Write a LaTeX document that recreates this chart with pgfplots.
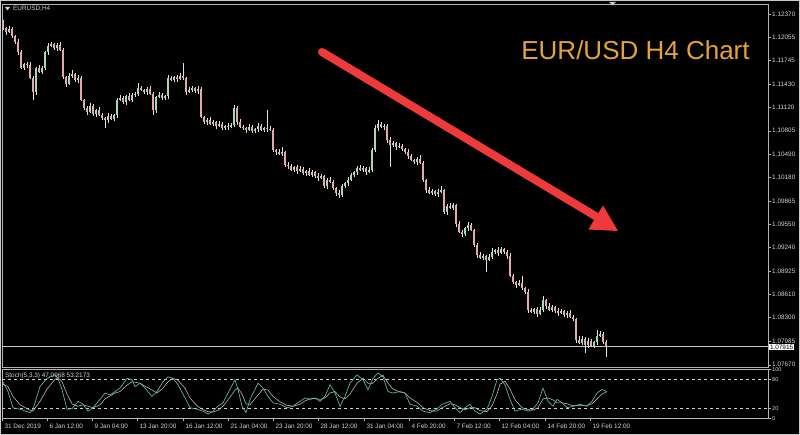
\documentclass[border=0pt]{standalone}
\usepackage{fontspec}
\setmainfont{Liberation Sans}
\usepackage{pgfplots}
\pgfplotsset{compat=1.18}
\usepackage{pgfplotstable}

\definecolor{framec}{HTML}{B4B4B4}
\definecolor{labelc}{HTML}{D2D2D2}
\definecolor{wickc}{HTML}{E2E2E2}
\definecolor{bearc}{HTML}{E6A9AB}
\definecolor{bullc}{HTML}{A9D8B0}
\definecolor{stochk}{HTML}{5AB4A0}
\definecolor{stochd}{HTML}{B8B8B8}
\definecolor{arrowc}{HTML}{EE3A3A}
\definecolor{titlec}{HTML}{E3A43A}

\newcommand\smallfont{\fontsize{6.4}{7}\selectfont}

% EURUSD H4 candles: x position, open, high, low, close
\pgfplotstableread{
x o h l c
3 1.12263 1.12290 1.12156 1.12183
6 1.12183 1.12196 1.12089 1.12129
9 1.12129 1.12210 1.12116 1.12169
12 1.12169 1.12196 1.12049 1.12076
15 1.12076 1.12089 1.11968 1.11995
18 1.11995 1.12035 1.11821 1.11861
21 1.11861 1.11888 1.11633 1.11647
24 1.11647 1.11714 1.11620 1.11700
27 1.11700 1.11727 1.11647 1.11687
30 1.11687 1.11727 1.11499 1.11513
33 1.11513 1.11540 1.11218 1.11325
36 1.11325 1.11660 1.11285 1.11647
39 1.11647 1.11687 1.11580 1.11593
42 1.11593 1.11674 1.11566 1.11647
45 1.11647 1.11875 1.11620 1.11861
48 1.11861 1.11982 1.11821 1.11942
51 1.11942 1.11995 1.11928 1.11968
54 1.11968 1.11982 1.11888 1.11915
57 1.11915 1.11982 1.11875 1.11955
60 1.11955 1.11995 1.11875 1.11888
63 1.11888 1.11915 1.11499 1.11526
66 1.11526 1.11540 1.11392 1.11432
69 1.11432 1.11580 1.11419 1.11540
72 1.11540 1.11620 1.11513 1.11566
75 1.11566 1.11580 1.11459 1.11486
78 1.11486 1.11553 1.11446 1.11513
81 1.11513 1.11540 1.11205 1.11218
84 1.11218 1.11231 1.11084 1.11111
87 1.11111 1.11138 1.11017 1.11057
90 1.11057 1.11178 1.11044 1.11138
93 1.11138 1.11164 1.11004 1.11030
96 1.11030 1.11097 1.10990 1.11084
99 1.11084 1.11124 1.11004 1.11017
102 1.11017 1.11044 1.10950 1.10977
105 1.10977 1.10990 1.10843 1.10950
108 1.10950 1.11044 1.10910 1.11004
111 1.11004 1.11030 1.10950 1.10963
114 1.10963 1.11030 1.10937 1.11017
117 1.11017 1.11245 1.10977 1.11218
120 1.11218 1.11285 1.11205 1.11245
123 1.11245 1.11272 1.11164 1.11191
126 1.11191 1.11285 1.11151 1.11272
129 1.11272 1.11312 1.11205 1.11218
132 1.11218 1.11312 1.11191 1.11285
135 1.11285 1.11325 1.11258 1.11298
138 1.11298 1.11446 1.11272 1.11379
141 1.11379 1.11406 1.11339 1.11352
144 1.11352 1.11365 1.11298 1.11325
147 1.11325 1.11392 1.11285 1.11365
150 1.11365 1.11406 1.11285 1.11298
153 1.11298 1.11325 1.11017 1.11084
156 1.11084 1.11272 1.11044 1.11258
159 1.11258 1.11325 1.11245 1.11285
162 1.11285 1.11312 1.11218 1.11245
165 1.11245 1.11285 1.11218 1.11272
168 1.11272 1.11553 1.11231 1.11513
171 1.11513 1.11540 1.11473 1.11486
174 1.11486 1.11540 1.11459 1.11526
177 1.11526 1.11553 1.11459 1.11499
180 1.11499 1.11580 1.11486 1.11540
183 1.11540 1.11714 1.11486 1.11513
186 1.11513 1.11526 1.11285 1.11325
189 1.11325 1.11392 1.11312 1.11352
192 1.11352 1.11406 1.11325 1.11379
195 1.11379 1.11392 1.11312 1.11339
198 1.11339 1.11406 1.11298 1.11365
201 1.11365 1.11392 1.10977 1.10990
204 1.10990 1.11004 1.10896 1.10923
207 1.10923 1.10977 1.10883 1.10950
210 1.10950 1.10990 1.10883 1.10896
213 1.10896 1.10950 1.10870 1.10923
216 1.10923 1.10937 1.10829 1.10870
219 1.10870 1.10937 1.10856 1.10896
222 1.10896 1.10923 1.10816 1.10843
225 1.10843 1.10883 1.10816 1.10870
228 1.10870 1.10910 1.10816 1.10856
231 1.10856 1.10910 1.10843 1.10883
234 1.10883 1.11151 1.10856 1.11111
237 1.11111 1.11138 1.10883 1.10923
240 1.10923 1.10963 1.10843 1.10856
243 1.10856 1.10883 1.10816 1.10843
246 1.10843 1.10856 1.10776 1.10816
249 1.10816 1.10896 1.10803 1.10856
252 1.10856 1.10883 1.10776 1.10803
255 1.10803 1.10843 1.10776 1.10829
258 1.10829 1.10910 1.10789 1.10870
261 1.10870 1.10896 1.10803 1.10816
264 1.10816 1.10856 1.10789 1.10843
267 1.10843 1.11084 1.10789 1.10829
270 1.10829 1.10870 1.10803 1.10816
273 1.10816 1.10843 1.10521 1.10548
276 1.10548 1.10561 1.10481 1.10521
279 1.10521 1.10561 1.10481 1.10494
282 1.10494 1.10588 1.10468 1.10521
285 1.10521 1.10535 1.10320 1.10347
288 1.10347 1.10387 1.10293 1.10334
291 1.10334 1.10360 1.10267 1.10280
294 1.10280 1.10334 1.10253 1.10320
297 1.10320 1.10347 1.10226 1.10267
300 1.10267 1.10334 1.10253 1.10293
303 1.10293 1.10320 1.10213 1.10240
306 1.10240 1.10280 1.10200 1.10267
309 1.10267 1.10307 1.10200 1.10213
312 1.10213 1.10280 1.10186 1.10253
315 1.10253 1.10267 1.10173 1.10200
318 1.10200 1.10240 1.10133 1.10173
321 1.10173 1.10226 1.10159 1.10200
324 1.10200 1.10213 1.10039 1.10066
327 1.10066 1.10173 1.10025 1.10146
330 1.10146 1.10186 1.10106 1.10119
333 1.10119 1.10146 1.10012 1.10039
336 1.10039 1.10052 1.09932 1.09972
339 1.09972 1.10012 1.09905 1.09945
342 1.09945 1.10092 1.09918 1.10066
345 1.10066 1.10119 1.10039 1.10106
348 1.10106 1.10186 1.10066 1.10146
351 1.10146 1.10240 1.10133 1.10213
354 1.10213 1.10267 1.10186 1.10253
357 1.10253 1.10334 1.10213 1.10307
360 1.10307 1.10347 1.10267 1.10280
363 1.10280 1.10334 1.10253 1.10307
366 1.10307 1.10320 1.10213 1.10253
369 1.10253 1.10320 1.10240 1.10280
372 1.10280 1.10575 1.10253 1.10548
375 1.10548 1.10883 1.10521 1.10843
378 1.10843 1.10950 1.10803 1.10896
381 1.10896 1.10923 1.10843 1.10856
384 1.10856 1.10896 1.10816 1.10870
387 1.10870 1.10896 1.10642 1.10682
390 1.10682 1.10722 1.10320 1.10615
393 1.10615 1.10669 1.10588 1.10642
396 1.10642 1.10655 1.10548 1.10588
399 1.10588 1.10642 1.10575 1.10602
402 1.10602 1.10628 1.10535 1.10561
405 1.10561 1.10575 1.10494 1.10521
408 1.10521 1.10561 1.10427 1.10468
411 1.10468 1.10494 1.10401 1.10414
414 1.10414 1.10427 1.10360 1.10387
417 1.10387 1.10454 1.10347 1.10427
420 1.10427 1.10481 1.10360 1.10374
423 1.10374 1.10401 1.10119 1.10146
426 1.10146 1.10159 1.09972 1.10012
429 1.10012 1.10052 1.09958 1.09972
432 1.09972 1.10025 1.09945 1.09999
435 1.09999 1.10012 1.09932 1.09958
438 1.09958 1.10025 1.09918 1.09985
441 1.09985 1.10066 1.09972 1.10012
444 1.10012 1.10025 1.09690 1.09717
447 1.09717 1.09824 1.09677 1.09798
450 1.09798 1.09838 1.09757 1.09771
453 1.09771 1.09838 1.09744 1.09811
456 1.09811 1.09824 1.09516 1.09556
459 1.09556 1.09597 1.09436 1.09449
462 1.09449 1.09476 1.09382 1.09422
465 1.09422 1.09516 1.09396 1.09503
468 1.09503 1.09583 1.09463 1.09543
471 1.09543 1.09570 1.09463 1.09476
474 1.09476 1.09489 1.09248 1.09275
477 1.09275 1.09302 1.09101 1.09141
480 1.09141 1.09181 1.09087 1.09101
483 1.09101 1.09154 1.09074 1.09128
486 1.09128 1.09141 1.08913 1.09074
489 1.09074 1.09154 1.09061 1.09114
492 1.09114 1.09235 1.09087 1.09181
495 1.09181 1.09221 1.09154 1.09208
498 1.09208 1.09248 1.09128 1.09168
501 1.09168 1.09248 1.09154 1.09221
504 1.09221 1.09235 1.09154 1.09181
507 1.09181 1.09208 1.09087 1.09128
510 1.09128 1.09168 1.08846 1.08860
513 1.08860 1.08886 1.08752 1.08779
516 1.08779 1.08793 1.08699 1.08739
519 1.08739 1.08806 1.08726 1.08766
522 1.08766 1.08860 1.08672 1.08699
525 1.08699 1.08712 1.08618 1.08645
528 1.08645 1.08685 1.08364 1.08404
531 1.08404 1.08431 1.08364 1.08377
534 1.08377 1.08431 1.08350 1.08417
537 1.08417 1.08444 1.08310 1.08350
540 1.08350 1.08444 1.08337 1.08404
543 1.08404 1.08592 1.08377 1.08538
546 1.08538 1.08551 1.08417 1.08458
549 1.08458 1.08498 1.08391 1.08404
552 1.08404 1.08471 1.08377 1.08444
555 1.08444 1.08458 1.08364 1.08391
558 1.08391 1.08431 1.08324 1.08364
561 1.08364 1.08417 1.08350 1.08391
564 1.08391 1.08404 1.08310 1.08337
567 1.08337 1.08391 1.08297 1.08364
570 1.08364 1.08404 1.08297 1.08310
573 1.08310 1.08337 1.08257 1.08283
576 1.08283 1.08297 1.07962 1.08002
579 1.08002 1.08056 1.07948 1.07962
582 1.07962 1.08056 1.07935 1.08015
585 1.08015 1.08042 1.07828 1.07935
588 1.07935 1.08029 1.07895 1.07989
591 1.07989 1.08015 1.07908 1.07922
594 1.07922 1.07989 1.07895 1.07975
597 1.07975 1.08136 1.07935 1.08056
600 1.08056 1.08123 1.08042 1.08082
603 1.08082 1.08109 1.07948 1.07975
606 1.07975 1.08002 1.07774 1.07915
}\candles

% Stochastic(5,3,3): main (k) and signal (d)
\pgfplotstableread{
x k d
3 75 70
8 55 65
13 22 45
20 19 28
30 12 17
33 19 15
40 65 35
47 82 60
55 89 80
58 82 84
62 59 75
67 19 50
72 20 30
78 35 25
83 29 28
88 15 25
93 22 22
100 39 28
105 52 40
110 48 46
115 55 52
120 62 55
127 82 68
132 79 75
135 65 74
140 72 72
145 62 66
152 45 58
157 55 52
163 75 62
168 85 75
173 82 82
178 69 78
185 42 62
190 22 42
197 19 26
203 15 18
208 9 14
213 15 13
218 25 17
223 32 25
228 52 38
235 79 58
238 59 62
242 25 50
246 12 30
250 39 28
258 72 48
263 62 60
268 45 58
273 32 45
280 29 34
287 22 27
293 25 25
300 35 29
305 42 36
310 39 40
315 42 41
320 35 39
325 45 42
330 69 52
335 52 55
340 25 44
345 45 40
350 72 50
357 89 72
363 79 82
368 59 72
373 82 72
378 93 82
383 85 88
388 55 72
393 52 60
400 55 54
405 52 52
410 29 42
417 25 33
423 15 22
430 12 16
437 19 15
442 29 22
450 35 30
455 22 28
460 12 22
465 22 18
470 29 22
475 15 22
480 9 16
487 19 14
492 45 26
497 79 50
500 82 70
505 69 76
510 39 60
515 15 38
522 19 22
528 15 18
533 19 17
538 32 22
543 62 40
548 35 42
553 25 38
557 39 32
562 32 32
567 22 30
573 25 26
580 29 26
587 25 27
592 35 30
597 52 40
602 59 50
607 55 55
}\stoch

\pgfplotsset{
  mt4/.style={
    scale only axis, width=766pt, xmin=2, xmax=768,
    axis line style={draw=framec, line width=0.6pt},
    tick style={draw=framec, line width=0.5pt},
    tick align=outside, major tick length=3pt,
    ticklabel style={font=\smallfont, text=labelc},
    ytick pos=right, yticklabel pos=right,
    yticklabel style={anchor=west, inner sep=1pt},
  },
}

\begin{document}
\begin{tikzpicture}[x=1pt, y=1pt]
\fill[black] (0,0) rectangle (800,435);
\draw[framec!70, line width=0.8pt] (0.4,0.4) rectangle (799.6,434.6);

% price panel, lower left corner 68pt above the bottom
\begin{axis}[mt4, at={(2pt,68pt)}, height=363pt,
    ymin=1.07640, ymax=1.12504, xtick=\empty,
    ytick={1.07670,1.07985,1.08300,1.08610,1.08925,1.09240,1.09550,1.09865,
           1.10180,1.10490,1.10805,1.11120,1.11430,1.11745,1.12055,1.12370},
    yticklabels={1.07670,1.07985,1.08300,1.08610,1.08925,1.09240,1.09550,1.09865,
           1.10180,1.10490,1.10805,1.11120,1.11430,1.11745,1.12055,1.12370},
]
% current price line
\addplot[framec!80, line width=0.5pt] coordinates {(2,1.07915) (768,1.07915)};
% wicks
\addplot[draw=none, mark=none, forget plot,
    error bars/.cd, y dir=plus, y explicit, error mark=none,
    error bar style={draw=wickc, line width=0.7pt}]
  table[x=x, y=l, y error expr=\thisrow{h}-\thisrow{l}] {\candles};
% bearish bodies
\addplot[draw=none, mark=none, forget plot,
    restrict expr to domain={\thisrow{o}-\thisrow{c}}{0:1},
    error bars/.cd, y dir=plus, y explicit, error mark=none,
    error bar style={draw=bearc, line width=2pt}]
  table[x=x, y=c, y error expr=\thisrow{o}-\thisrow{c}] {\candles};
% bullish bodies
\addplot[draw=none, mark=none, forget plot,
    restrict expr to domain={\thisrow{c}-\thisrow{o}}{0.000001:1},
    error bars/.cd, y dir=plus, y explicit, error mark=none,
    error bar style={draw=bullc, line width=2pt}]
  table[x=x, y=o, y error expr=\thisrow{c}-\thisrow{o}] {\candles};
\end{axis}

% stochastic panel
\begin{axis}[mt4, at={(2pt,16.5pt)}, height=49pt,
    ymin=0, ymax=100,
    ytick={0,20,80,100}, yticklabels={0,20,80,100},
    yticklabel style={font=\fontsize{5.6}{6}\selectfont},
    xtick pos=bottom,
    xtick={2,47,92,137,183,228,273,318,364,409,454,499,545,590},
    xticklabels={31 Dec 2019,6 Jan 12:00,9 Jan 04:00,13 Jan 20:00,16 Jan 12:00,
                 21 Jan 04:00,23 Jan 20:00,28 Jan 12:00,31 Jan 04:00,4 Feb 20:00,
                 7 Feb 12:00,12 Feb 04:00,14 Feb 20:00,19 Feb 12:00},
    xticklabel style={anchor=north west, xshift=-1pt, yshift=1pt},
]
\addplot[labelc, dashed, line width=0.4pt] coordinates {(2,80) (768,80)};
\addplot[labelc, dashed, line width=0.4pt] coordinates {(2,20) (768,20)};
\addplot[stochd, line width=0.6pt] table[x=x, y=d] {\stoch};
\addplot[stochk, line width=0.7pt] table[x=x, y=k] {\stoch};
\end{axis}

% labels and drawing objects
\fill[labelc] (5,428) -- (10,428) -- (7.5,424.5) -- cycle;
\node[anchor=west, text=labelc, font=\smallfont, inner sep=0pt] at (13,426.5) {EURUSD,H4};
\node[anchor=west, text=labelc, font=\smallfont, inner sep=0pt] at (5,59) {Stoch(5,3,3) 47.0968 53.2173};
\fill[framec!70] (609,433) -- (616,433) -- (612.5,429.5) -- cycle;
\node[anchor=west, fill=white, text=black, font=\smallfont, inner sep=0.8pt] at (769,88) {1.07915};
\node[text=titlec, font=\fontsize{26}{30}\selectfont] at (635.5,385) {EUR/USD H4 Chart};
\draw[arrowc, line width=8pt, line cap=round] (322,383) -- (597,218);
\fill[arrowc] (618,204) -- (603,229.5) -- (588.4,205.5) -- cycle;
\end{tikzpicture}
\end{document}
